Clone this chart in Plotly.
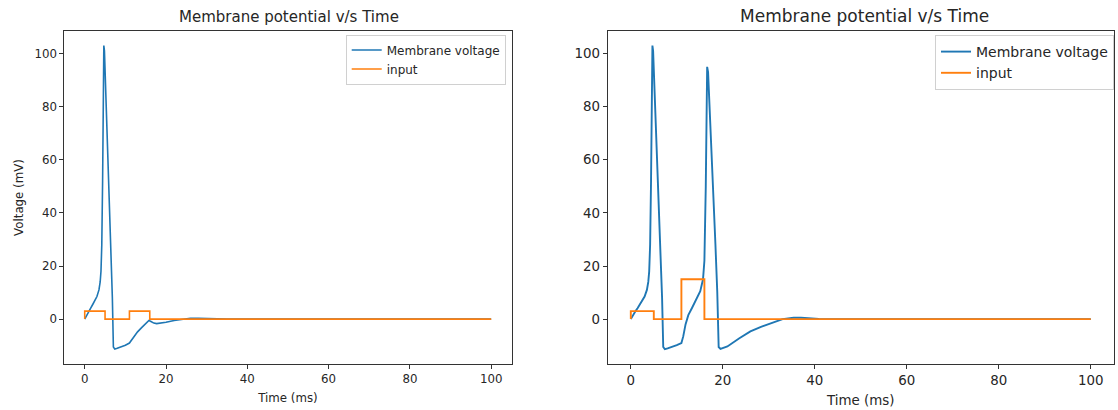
import plotly.graph_objects as go

# ---------------- data ----------------
# Left panel: single spike
t_left = [0, 0.5, 1, 1.5, 2, 2.5, 3, 3.5, 3.8, 4.0, 4.2, 4.4, 4.55, 4.7, 4.85, 5.2, 5.6, 6.0, 6.4, 6.8, 7.05,
          7.4, 8, 9, 10, 11, 12, 13, 14, 15, 15.8, 16.3, 17, 17.7, 19, 20, 22, 24, 26, 28, 30, 35, 40, 100]
v_left = [0, 1.6, 3.0, 4.2, 5.6, 6.8, 8.5, 11, 14, 18, 28, 52, 80, 103, 101, 85, 66, 46, 26, 8, -10.5,
          -11.3, -11.0, -10.5, -9.8, -9.0, -6.8, -4.8, -3.2, -1.8, -0.5, -0.9, -1.5, -1.7, -1.5, -1.2, -0.5, -0.1, 0.3, 0.3, 0.2, 0.0, 0.0, 0.0]
t_in_left = [0, 0, 5, 5, 11, 11, 16, 16, 100]
i_in_left = [0, 3, 3, 0, 0, 3, 3, 0, 0]

# Right panel: two spikes
t_right = [0, 0.5, 1, 1.5, 2, 2.5, 3, 3.5, 3.8, 4.0, 4.2, 4.4, 4.55, 4.7, 4.85, 5.2, 5.6, 6.0, 6.4, 6.8, 7.05,
           7.4, 8, 9, 10, 11, 11.4, 11.9, 12.5, 13.3, 14.3, 15.1, 15.7, 16.0, 16.3, 16.6, 16.8, 17.2, 17.6, 18.0, 18.4,
           18.8, 19.1, 19.5, 21, 23.6, 26, 28.3, 30, 31.5, 33, 35.4, 37, 40.9, 44, 100]
v_right = [0, 1.6, 3.0, 4.2, 5.6, 6.8, 8.5, 11, 14, 18, 28, 52, 80, 103, 101, 85, 66, 46, 26, 8, -10.5,
           -11.3, -11.0, -10.5, -9.8, -9.0, -6.5, -2.0, 1.5, 4.2, 7.5, 10.5, 15, 22, 50, 95, 93, 78, 62, 45, 28,
           10, -10.5, -11.2, -10.3, -7.2, -4.6, -2.9, -1.8, -0.8, 0.0, 0.5, 0.5, 0.1, 0.0, 0.0]
t_in_right = [0, 0, 5, 5, 11, 11, 16, 16, 100]
i_in_right = [0, 3, 3, 0, 0, 15, 15, 0, 0]

x_ticks = [0, 20, 40, 60, 80, 100]
y_ticks = [0, 20, 40, 60, 80, 100]

BLUE = "#1f77b4"
ORANGE = "#ff7f0e"
FONT = "DejaVu Sans"
TXT = "#262626"
W, H = 1118, 410

fig = go.Figure()

fig.add_trace(go.Scatter(x=t_left, y=v_left, mode="lines", name="Membrane voltage",
                         line=dict(color=BLUE, width=1.6), xaxis="x", yaxis="y", legend="legend"))
fig.add_trace(go.Scatter(x=t_in_left, y=i_in_left, mode="lines", name="input",
                         line=dict(color=ORANGE, width=1.6), xaxis="x", yaxis="y", legend="legend"))
fig.add_trace(go.Scatter(x=t_right, y=v_right, mode="lines", name="Membrane voltage",
                         line=dict(color=BLUE, width=1.9), xaxis="x2", yaxis="y2", legend="legend2"))
fig.add_trace(go.Scatter(x=t_in_right, y=i_in_right, mode="lines", name="input",
                         line=dict(color=ORANGE, width=1.9), xaxis="x2", yaxis="y2", legend="legend2"))

def px_x(p):
    return p / W

def px_y(p):
    return 1 - p / H

ax_common = dict(showline=True, mirror=True, linecolor="#333333", linewidth=1,
                 ticks="outside", ticklen=4, tickcolor="#333333", showgrid=False, zeroline=False)

y_dom = [px_y(364), px_y(31)]

fig.update_layout(
    width=W, height=H,
    margin=dict(l=0, r=0, t=0, b=0),
    paper_bgcolor="white", plot_bgcolor="white",
    font=dict(family=FONT, color=TXT),
    xaxis=dict(domain=[px_x(64.4), px_x(511.5)], range=[-5, 105], tickvals=x_ticks,
               tickfont=dict(size=11.8), title=dict(text="Time (ms)", font=dict(size=11.8), standoff=8),
               anchor="y", **ax_common),
    yaxis=dict(domain=y_dom, range=[-16.9, 108.5], tickvals=y_ticks,
               tickfont=dict(size=11.8), title=dict(text="Voltage (mV)", font=dict(size=11.8), standoff=8),
               anchor="x", **ax_common),
    xaxis2=dict(domain=[px_x(607.8), px_x(1113.8)], range=[-5, 105], tickvals=x_ticks,
                tickfont=dict(size=13.4), title=dict(text="Time (ms)", font=dict(size=13.4), standoff=8),
                anchor="y2", **ax_common),
    yaxis2=dict(domain=y_dom, range=[-16.9, 108.5], tickvals=y_ticks,
                tickfont=dict(size=13.4), anchor="x2", **ax_common),
    legend=dict(x=px_x(505.7), y=px_y(34.5), xanchor="right", yanchor="top",
                bgcolor="rgba(255,255,255,0.8)", bordercolor="#d0d0d0", borderwidth=1,
                font=dict(size=12, family=FONT, color=TXT), tracegroupgap=0),
    legend2=dict(x=px_x(1114), y=px_y(35), xanchor="right", yanchor="top",
                 bgcolor="rgba(255,255,255,0.8)", bordercolor="#d0d0d0", borderwidth=1,
                 font=dict(size=14, family=FONT, color=TXT), tracegroupgap=0),
    showlegend=True,
    annotations=[
        dict(text="Membrane potential v/s Time", x=px_x(289), y=px_y(17), xref="paper", yref="paper",
             xanchor="center", yanchor="middle", showarrow=False, font=dict(size=15, family=FONT, color=TXT)),
        dict(text="Membrane potential v/s Time", x=px_x(864), y=px_y(16), xref="paper", yref="paper",
             xanchor="center", yanchor="middle", showarrow=False, font=dict(size=17, family=FONT, color=TXT)),
    ],
)

fig.write_html("out.html")
